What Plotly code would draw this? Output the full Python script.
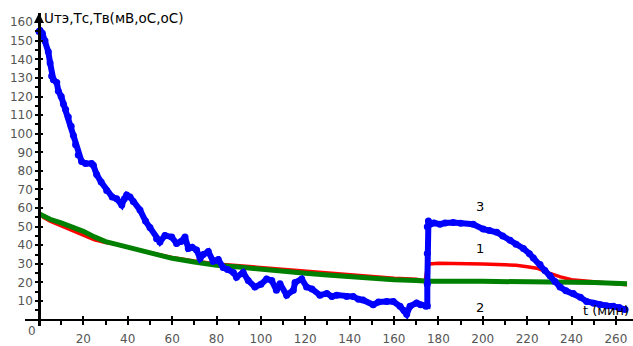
import plotly.graph_objects as go

# ---- data ----
t_blue = [0, 0.5, 1.5, 2.7, 4.2, 5, 5.7, 6.5, 8, 8.7, 10, 11, 12, 13.2, 14.5, 15.5, 16.5, 17.7,
          19.2, 21, 23.7, 24.5, 26, 28, 30.5, 33, 35, 37.3, 38.5, 39.5, 41, 42.5, 45.5, 48, 50,
          53, 54.5, 56.8, 59.8, 62, 64, 65.8, 67.3, 69, 71, 72.6, 74, 76.3, 78.5, 80.8, 83, 85,
          87.6, 89, 92, 94.3, 97.3, 100, 102.6, 104.9, 107, 108.6, 111.6, 114.6, 115.4, 118.4,
          120.6, 123, 126.6, 129.7, 132, 134.2, 138.7, 141.6, 144, 146, 150.6, 153, 156.7, 159.7,
          162.7, 164.5, 165.7, 167.2, 170.2, 172, 174.4, 175, 175, 175, 175, 175.5, 176.2, 178,
          180.7, 183, 186.7, 190, 195.7, 200.2, 203, 206.3, 209, 212.3, 215, 218.3, 221, 222.8,
          225.8, 228, 230.3, 232.5, 234.8, 237.5, 240.8, 244, 246.8, 250, 252.8, 255.8, 258.8,
          261.5, 264.1]
u_blue = [155, 155.5, 154, 150, 144, 138, 131, 129, 127.5, 123, 120, 116, 113, 109, 104, 99, 94,
          88.6, 85, 84, 84, 83, 78, 74, 69.5, 66, 65, 61.7, 65, 67, 66, 63.5, 59, 53, 49.6,
          43.5, 41.8, 45.3, 44.4, 41, 42, 44.4, 38.3, 39, 37.5, 33, 35, 36.6, 31.4, 32.3, 28, 27,
          25.4, 22.8, 25.4, 21, 17.6, 19, 21.9, 21, 15.8, 19.3, 13.2, 15.8, 20, 21.9,
          17.6, 16.5, 13.2, 14.1, 12.5, 13.2, 12.4, 12.4, 11, 10.6, 8, 9.5, 9.8, 9.8,
          7.2, 5, 2.9, 7.2, 9, 8, 7.2, 7.5, 19, 35.6, 50, 53, 51.3, 52,
          51.3, 52, 52.2, 51.8, 51.3, 48.7, 48, 47, 45, 42.7, 40.5, 38.3, 35.5, 33.1,
          29.7, 26.5, 23.6, 20.5, 17.6, 15.5, 14.1, 12, 9.8, 8.8, 8, 7.5, 7.2,
          6.5, 5.5]

t_red = [0, 2, 5, 10, 15, 20, 25, 30, 35, 40, 45, 50, 60, 70, 80, 90, 100, 110, 120, 130, 140,
         150, 160, 170, 174, 175, 176, 180, 190, 200, 210, 215, 220, 225, 230, 235, 240, 245,
         250, 255, 260, 265]
v_red = [57.5, 55, 53, 50.5, 48, 45, 43, 41.5, 40.5, 39, 37.5, 36, 33.5, 31.5, 30, 29, 28, 27,
         26, 25, 24, 23, 22.3, 21.8, 20.8, 28, 30, 30.3, 30.2, 30, 29.5, 29.3, 28.5, 27.5, 25,
         23, 21.5, 21, 20.3, 19.7, 19.2, 18.8]

t_green = [0, 5, 10, 15, 20, 25, 30, 35, 40, 45, 50, 60, 70, 80, 90, 100, 110, 120, 130, 140,
           150, 160, 170, 175, 200, 230, 250, 265]
v_green = [57, 54, 52, 50, 47.5, 44.5, 42, 40.5, 39, 37, 35.5, 33, 31, 29.3, 28.3, 27, 26, 25,
           24, 23, 22.2, 21.5, 21, 20.7, 20.6, 20.4, 20, 19.3]

x_tick_vals = [20, 40, 60, 80, 100, 120, 140, 160, 180, 200, 220, 240, 260]
y_tick_vals = [10, 20, 30, 40, 50, 60, 70, 80, 90, 100, 110, 120, 130, 140, 150, 160]

curve_labels = ["3", "1", "2"]
curve_label_pos = [(198.7, 61), (198.7, 38.2), (198.7, 6.5)]

y_title = "Uтэ,Тс,Тв(мВ,оС,оС)"
x_title = "t (мин)"

# ---- layout geometry ----
X_RANGE = [-6.31, 267.7]
Y_RANGE = [-3.4, 164.9]
xpos = (0 - Y_RANGE[0]) / (Y_RANGE[1] - Y_RANGE[0])
ypos = (0 - X_RANGE[0]) / (X_RANGE[1] - X_RANGE[0])

FONT = "DejaVu Sans"
TICKFONT = dict(family=FONT, size=12, color="#555555")

fig = go.Figure()
fig.add_trace(go.Scatter(x=t_red, y=v_red, mode="lines",
                         line=dict(color="#ff0000", width=3.5), hoverinfo="skip"))
fig.add_trace(go.Scatter(x=t_green, y=v_green, mode="lines",
                         line=dict(color="#008000", width=5), hoverinfo="skip"))
fig.add_trace(go.Scatter(x=t_blue, y=u_blue, mode="lines+markers",
                         line=dict(color="#0000ff", width=6),
                         marker=dict(color="#0000ff", size=7), hoverinfo="skip"))
# empty trace to activate overlay axes (inside ticks)
fig.add_trace(go.Scatter(x=[], y=[], xaxis="x2", yaxis="y2", showlegend=False))

common_x = dict(range=X_RANGE, anchor="free", position=xpos, tickvals=x_tick_vals,
                ticklen=4, tickwidth=2, tickcolor="black", showgrid=False, zeroline=False,
                minor=dict(dtick=10, tick0=0, ticklen=4, tickwidth=2, tickcolor="black", showgrid=False))
common_y = dict(range=Y_RANGE, anchor="free", position=ypos, tickvals=y_tick_vals,
                ticklen=3, tickwidth=2, tickcolor="black", showgrid=False, zeroline=False,
                minor=dict(dtick=5, tick0=0, ticklen=3, tickwidth=2, tickcolor="black", showgrid=False))

fig.update_layout(
    width=633, height=346,
    margin=dict(l=25, r=0, t=13, b=9),
    paper_bgcolor="white", plot_bgcolor="white",
    showlegend=False,
    xaxis=dict(**common_x, ticks="outside", showline=True, linecolor="black", linewidth=2,
               ticklabelstandoff=4,
               ticktext=[str(v) for v in x_tick_vals], tickfont=TICKFONT),
    yaxis=dict(**common_y, ticks="outside", showline=True, linecolor="black", linewidth=2.5,
               ticktext=[str(v) for v in y_tick_vals], tickfont=TICKFONT),
    xaxis2=dict(**common_x, overlaying="x", ticks="inside", showline=False, showticklabels=False),
    yaxis2=dict(**common_y, overlaying="y", ticks="inside", showline=False, showticklabels=False),
)
fig.layout.xaxis2.matches = "x"
fig.layout.yaxis2.matches = "y"

annots = []
annots.append(dict(x=0, y=162.3, xref="x", yref="y", text=y_title, showarrow=False,
                   xanchor="left", yanchor="middle", xshift=3,
                   font=dict(family=FONT, size=13.5, color="black")))
annots.append(dict(x=1, y=4.9, xref="paper", yref="y", text=x_title, showarrow=False,
                   xanchor="right", yanchor="middle", xshift=-2,
                   font=dict(family=FONT, size=13, color="black")))
annots.append(dict(x=0, y=0, xref="x", yref="y", text="0", showarrow=False,
                   xanchor="right", yanchor="top", xshift=-1, yshift=-2, font=TICKFONT))
for lab, (lx, ly) in zip(curve_labels, curve_label_pos):
    annots.append(dict(x=lx, y=ly, xref="x", yref="y", text=lab, showarrow=False,
                       font=dict(family=FONT, size=13, color="black")))
# arrow at the top of the vertical axis
annots.append(dict(x=0, y=Y_RANGE[1], xref="x", yref="y", text="", showarrow=True,
                   ax=0, ay=14, axref="pixel", ayref="pixel",
                   arrowhead=2, arrowsize=1, arrowwidth=2, arrowcolor="black"))
fig.update_layout(annotations=annots)

fig.write_html("out.html")
